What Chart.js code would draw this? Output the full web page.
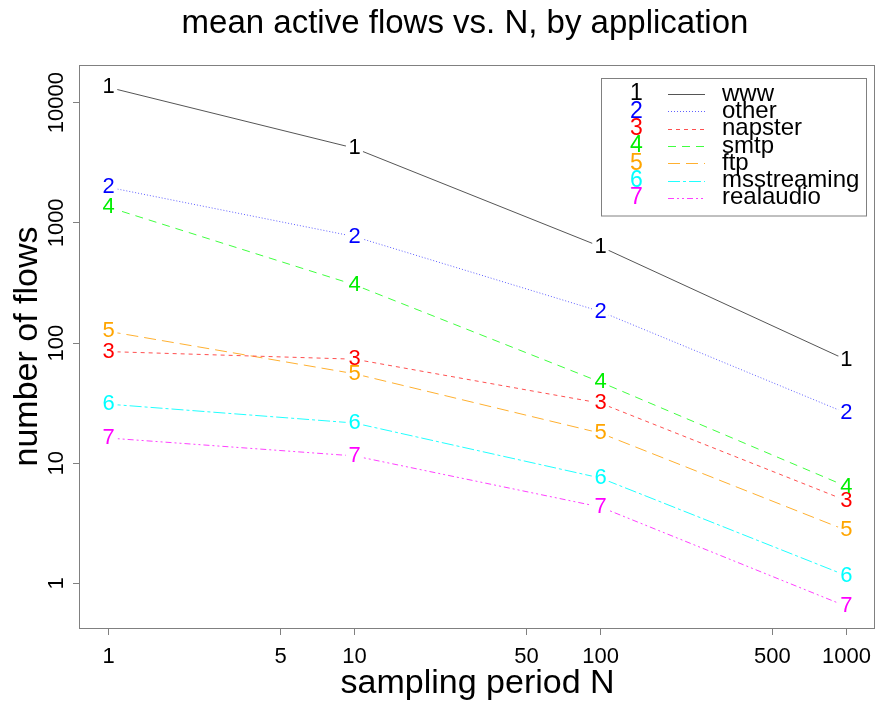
<!DOCTYPE html>
<html>
<head>
<meta charset="utf-8">
<script src="https://cdn.jsdelivr.net/npm/chart.js@4"></script>
<style>
  html, body { margin: 0; padding: 0; background: #fff; }
  #wrap { width: 880px; height: 701px; }
</style>
</head>
<body>
<div id="wrap"><canvas id="flowChart" width="880" height="701"></canvas></div>
<script>
/* ---------------- DATA ---------------- */
const periods = [1, 10, 100, 1000];               // sampling period N
const apps = ["www", "other", "napster", "smtp", "ftp", "msstreaming", "realaudio"];
const www         = [13400, 4180, 634, 72.4];
const other       = [1977, 769, 183, 26.1];
const napster     = [84.9, 73.4, 31.6, 4.88];
const smtp        = [1349, 305, 47.3, 6.41];
const ftp         = [125, 55.5, 17.8, 2.76];
const msstreaming = [31.0, 21.6, 7.53, 1.16];
const realaudio   = [16.2, 11.5, 4.32, 0.644];
const xTicks = [1, 5, 10, 50, 100, 500, 1000];
const yTicks = [1, 10, 100, 1000, 10000];
/* -------------------------------------- */

const seriesValues = [www, other, napster, smtp, ftp, msstreaming, realaudio];
const colors  = ["#000000", "#0000ff", "#ff0000", "#00ee00", "#ffa500", "#00ffff", "#ff00ff"];
const lineCol = ["#555555", "#6060ff", "#ff5050", "#40ff40", "#ffb030", "#20ffff", "#ff40ff"];
const dashes  = [[], [1, 2], [4, 4], [8, 6], [12, 6], [12, 3, 3, 3], [6, 3, 2, 3, 2, 3]];

const FONT = "'Liberation Sans', Arial, Helvetica, sans-serif";
Chart.defaults.font.family = FONT;
Chart.defaults.color = "#000";

const datasets = seriesValues.map((vals, i) => ({
    label: apps[i],
    data: periods.map((p, j) => ({ x: p, y: vals[j] })),
    borderColor: lineCol[i],
    borderWidth: 1,
    borderDash: dashes[i],
    pointRadius: 0,
    tension: 0,
    fill: false
}));

/* line gaps around the digit markers (like R's type="b") */
const gapPlugin = {
    id: "gaps",
    beforeDatasetDraw(chart, args) {
        const ctx = chart.ctx;
        ctx.save();
        ctx.beginPath();
        ctx.rect(0, 0, chart.width, chart.height);
        args.meta.data.forEach(pt => {
            ctx.moveTo(pt.x + 9, pt.y);
            ctx.arc(pt.x, pt.y, 9, 0, Math.PI * 2);
        });
        ctx.clip("evenodd");
    },
    afterDatasetDraw(chart) {
        chart.ctx.restore();
    }
};

/* digit markers, plot box, title, legend */
const decorPlugin = {
    id: "decor",
    afterDatasetsDraw(chart) {
        const ctx = chart.ctx;
        const a = chart.chartArea;
        ctx.save();

        // markers
        ctx.font = "22px " + FONT;
        ctx.textAlign = "center";
        ctx.textBaseline = "middle";
        chart.data.datasets.forEach((ds, i) => {
            ctx.fillStyle = colors[i];
            chart.getDatasetMeta(i).data.forEach(pt => {
                ctx.fillText(String(i + 1), pt.x, pt.y);
            });
        });

        // plot box
        ctx.strokeStyle = "#808080";
        ctx.lineWidth = 1;
        ctx.setLineDash([]);
        ctx.strokeRect(Math.round(a.left) - 0.5, Math.round(a.top) + 0.5,
                       Math.round(a.right - a.left), Math.round(a.bottom - a.top));

        // title
        ctx.fillStyle = "#000";
        ctx.font = "33px " + FONT;
        ctx.fillText("mean active flows vs. N, by application", 465, 24);

        // legend
        ctx.strokeStyle = "#808080";
        ctx.strokeRect(601.5, 78.5, 265, 137.5);
        const y0 = 94, step = 17.3;
        chart.data.datasets.forEach((ds, i) => {
            const y = y0 + i * step;
            ctx.font = "23px " + FONT;
            ctx.textAlign = "center";
            ctx.fillStyle = colors[i];
            ctx.fillText(String(i + 1), 636.5, y);
            ctx.strokeStyle = lineCol[i];
            ctx.setLineDash(dashes[i]);
            ctx.beginPath();
            ctx.moveTo(668, Math.round(y) + 0.5);
            ctx.lineTo(705, Math.round(y) + 0.5);
            ctx.stroke();
            ctx.setLineDash([]);
            ctx.textAlign = "left";
            ctx.fillStyle = "#000";
            ctx.font = "24px " + FONT;
            ctx.fillText(ds.label, 722, y);
        });
        ctx.restore();
    }
};

new Chart(document.getElementById("flowChart").getContext("2d"), {
    type: "line",
    data: { datasets },
    plugins: [gapPlugin, decorPlugin],
    options: {
        responsive: false,
        animation: false,
        layout: { padding: { top: 65, right: 2, left: 0, bottom: 0 } },
        plugins: {
            legend: { display: false },
            title: { display: false },
            tooltip: { enabled: false }
        },
        scales: {
            x: {
                type: "logarithmic",
                min: Math.pow(10, -0.1166),
                max: Math.pow(10, 3.1166),
                afterBuildTicks: s => { s.ticks = xTicks.map(v => ({ value: v })); },
                afterFit: s => { s.height = 73; },
                ticks: {
                    autoSkip: false, maxRotation: 0, minRotation: 0,
                    padding: 9,
                    font: { size: 22 },
                    callback: v => String(v)
                },
                grid: { drawOnChartArea: false, drawTicks: true, tickLength: 7, color: "#808080" },
                border: { display: false },
                title: {
                    display: true, text: "sampling period N",
                    font: { size: 34, lineHeight: 1 },
                    padding: { top: 0, bottom: 0 }
                }
            },
            y: {
                type: "logarithmic",
                min: Math.pow(10, -0.371),
                max: Math.pow(10, 4.3135),
                afterBuildTicks: s => { s.ticks = yTicks.map(v => ({ value: v })); },
                afterFit: s => { s.width = 80; },
                ticks: {
                    autoSkip: false, minRotation: 90, maxRotation: 90,
                    crossAlign: "center",
                    padding: -15,
                    font: { size: 22 },
                    callback: v => String(v)
                },
                grid: { drawOnChartArea: false, drawTicks: true, tickLength: 7, color: "#808080" },
                border: { display: false },
                title: {
                    display: true, text: "number of flows",
                    font: { size: 34, lineHeight: 1 },
                    padding: { top: 11, bottom: 0 }
                }
            }
        }
    }
});
</script>
</body>
</html>
